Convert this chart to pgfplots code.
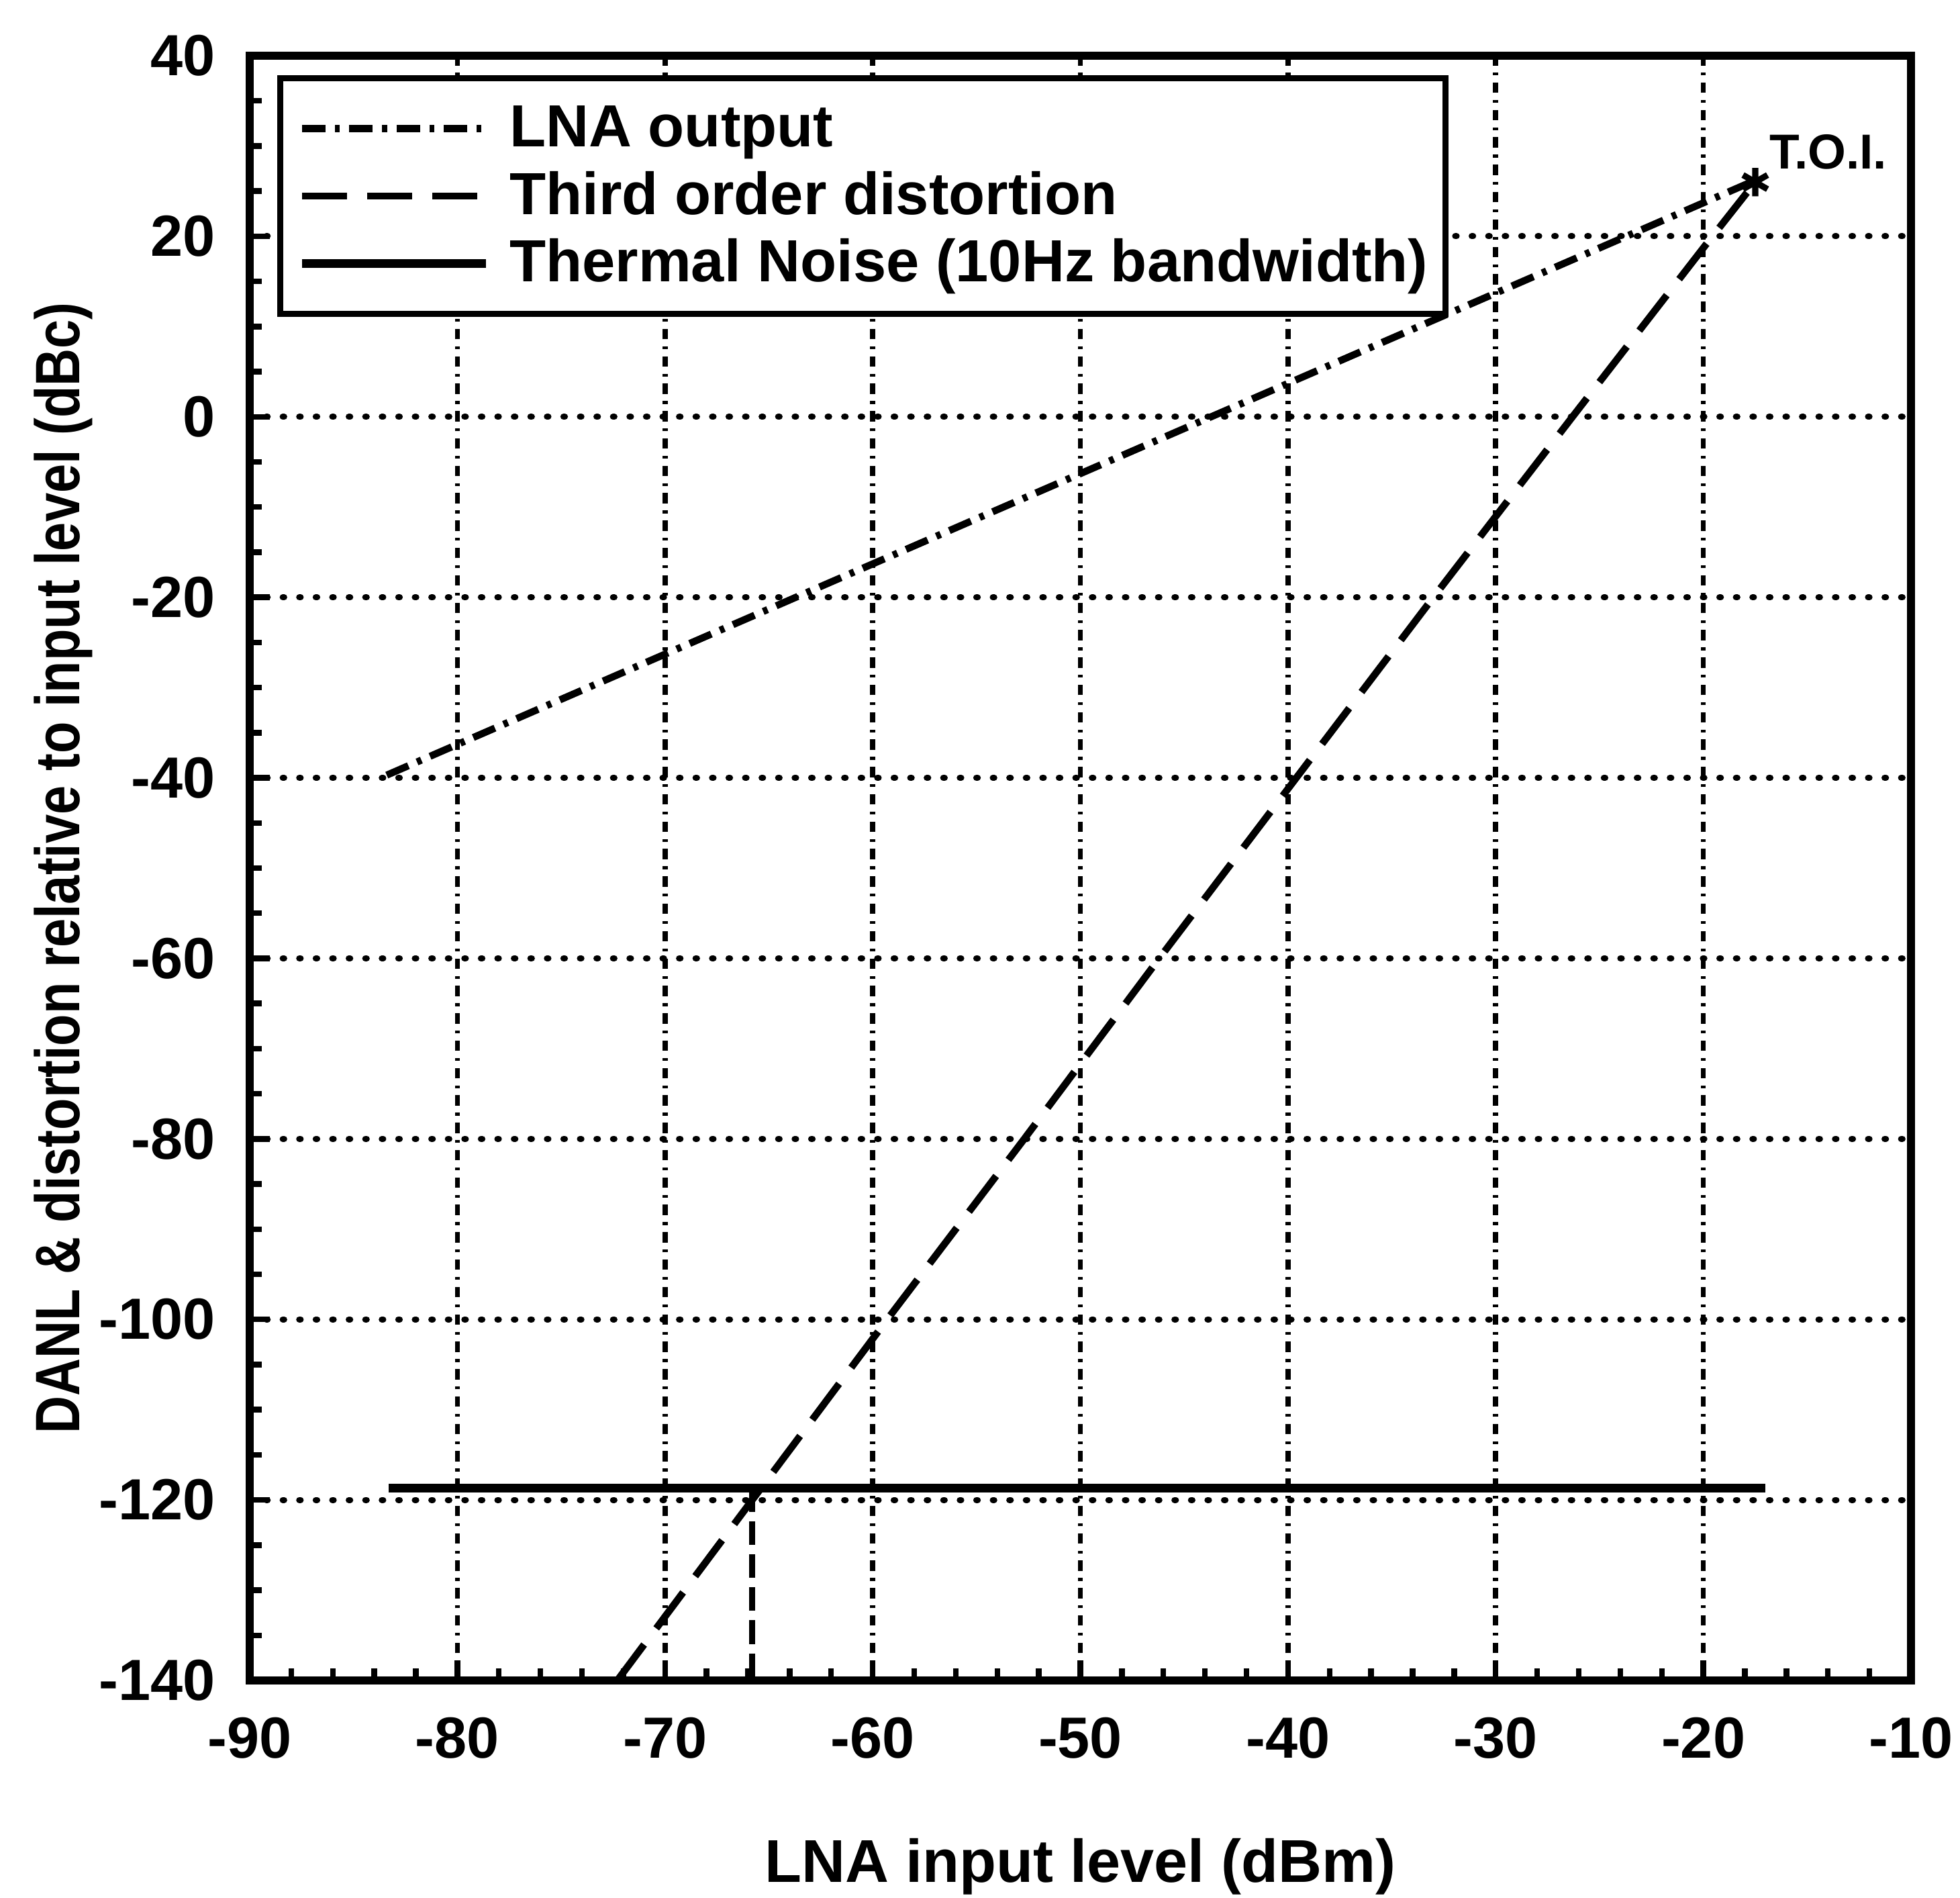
\documentclass[border=0pt]{standalone}
\usepackage{fontspec}
\setmainfont{Liberation Sans}
\newfontfamily\narrowsans{Liberation Sans}[FakeStretch=0.83]
\usepackage{pgfplots}
\pgfplotsset{compat=1.18}

\begin{document}
\begin{tikzpicture}
\begin{axis}[
  name=ax,
  scale only axis,
  width=12.375cm, height=12.1cm,
  xmin=-90, xmax=-10, ymin=-140, ymax=40,
  xtick={-90,-80,...,-10}, ytick={-140,-120,...,40},
  minor x tick num=4, minor y tick num=3,
  tick align=inside, xtick pos=bottom, ytick pos=left,
  major tick length=0.15cm, minor tick length=0.09cm,
  every tick/.style={black, line width=1.2pt},
  axis line style={line width=1.8pt},
  /pgf/number format/assume math mode=true,
  ticklabel style={font=\bfseries\fontsize{12.3}{14}\selectfont},
  xticklabel style={inner sep=0pt, anchor=north, yshift=-0.27cm},
  yticklabel style={inner sep=0pt, anchor=east, xshift=-0.25cm},
  xmajorgrids, ymajorgrids,
  x grid style={black, line width=1.1pt, dash pattern=on 2.2pt off 1.5pt on 0.6pt off 1.5pt},
  y grid style={black, line width=1.3pt, line cap=round, dash pattern=on 0.3pt off 3.2pt},
  xlabel={LNA input level (dBm)},
  xlabel style={at={(axis description cs:0.5,-0.124)}, anchor=base, inner sep=0pt,
    font=\bfseries\fontsize{12.8}{15}\selectfont},
  ylabel={DANL \& distortion relative to input level (dBc)},
  ylabel style={at={(axis description cs:-0.1026,0.5)}, anchor=base, inner sep=0pt,
    font=\narrowsans\bfseries\fontsize{13.3}{15}\selectfont},
  legend style={at={(axis description cs:0.0166,0.988)}, anchor=north west,
    draw=black, line width=1.3pt, fill=white,
    inner xsep=0.13cm, inner ysep=5.3pt, row sep=3.6pt, column sep=0.145cm,
    font=\bfseries\fontsize{12.6}{14}\selectfont,
    nodes={inner sep=0pt, text height=9.2pt, text depth=1.5pt}},
  legend cell align=left,
  legend image code/.code={\draw[#1] (0cm,0cm) -- (1.37cm,0cm);},
]
% LNA output, slope 1
\addplot[black, line width=1.5pt, dash pattern=on 5pt off 2pt on 1pt off 2pt]
  coordinates {(-83.4,-39.7) (-60,-16.3) (-40,3.7) (-17.5,26.2)};
\addlegendentry{LNA output}
% third order, slope 3
\addplot[black, line width=1.5pt, dash pattern=on 9.5pt off 4.3pt]
  coordinates {(-72.3,-140) (-65.8,-120) (-59.3,-100) (-52.7,-80) (-46.2,-60)
               (-39.6,-40) (-33.0,-20) (-26.3,0) (-19.9,19) (-17.5,26)};
\addlegendentry{Third order distortion}
\addplot[black, line width=1.8pt]
  coordinates {(-83.3,-118.7) (-17.0,-118.7)};
\addlegendentry{Thermal Noise (10Hz bandwidth)}
% drop line at the noise crossing
\addplot[forget plot, black, line width=1.3pt, dash pattern=on 5pt off 2pt]
  coordinates {(-65.8,-118.7) (-65.8,-140)};
% T.O.I. marker
\addplot[forget plot, black, only marks, mark=asterisk, mark size=3pt,
  mark options={line width=1.3pt, solid}] coordinates {(-17.5,26)};
\node[anchor=base west, inner sep=0pt, font=\bfseries\fontsize{10.4}{12}\selectfont]
  at (axis cs:-16.85,27.5) {T.O.I.};
\end{axis}
\pgfresetboundingbox
\path ([xshift=-1.86cm,yshift=-1.615cm]ax.south west) rectangle ([xshift=0.365cm,yshift=0.415cm]ax.north east);
\end{tikzpicture}
\end{document}
